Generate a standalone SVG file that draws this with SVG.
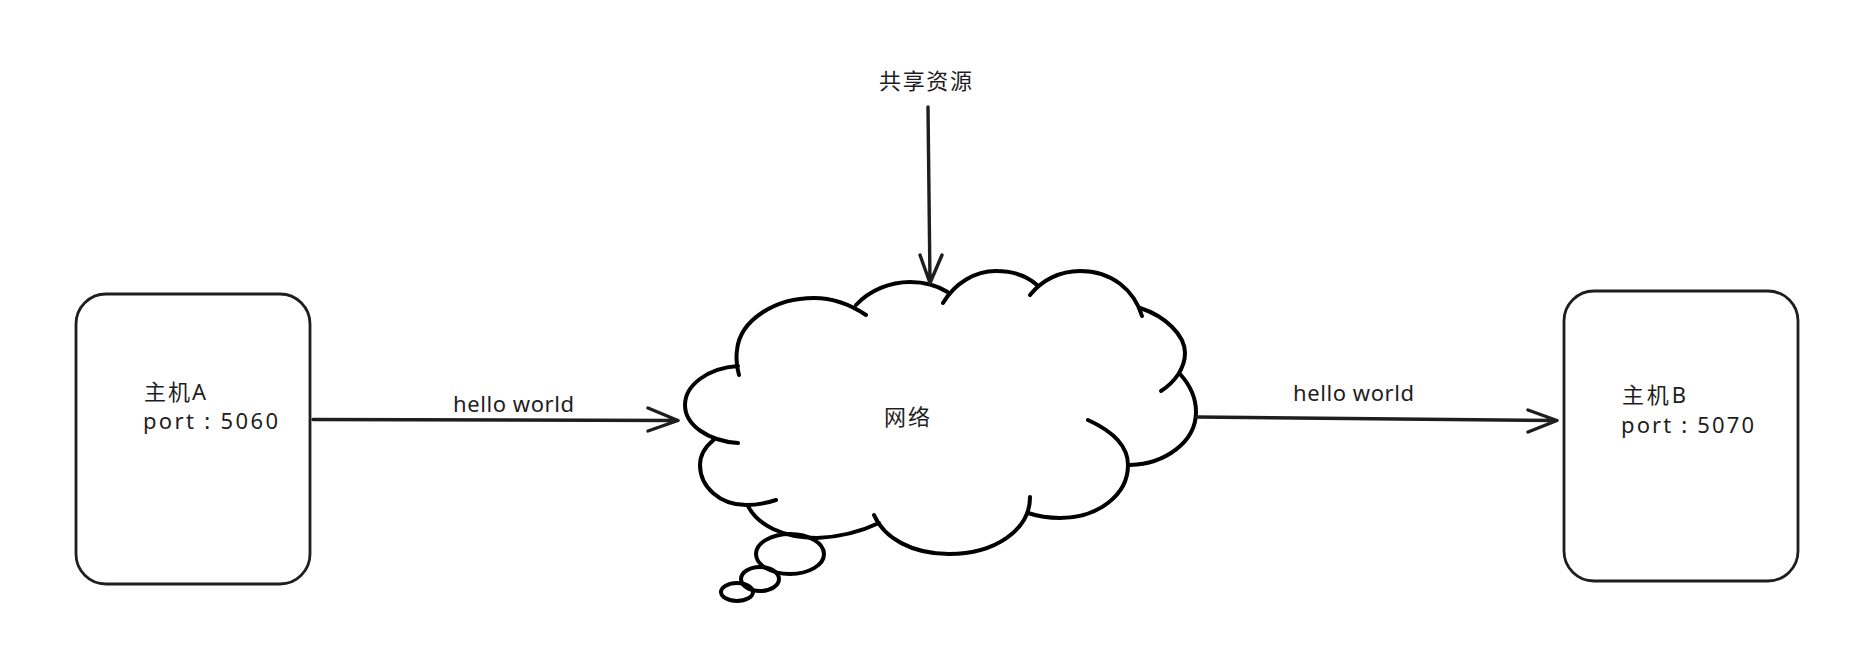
<svg xmlns="http://www.w3.org/2000/svg" width="1868" height="666" viewBox="0 0 1868 666">
<style>
text{font-family:"Noto Sans","Noto Sans CJK SC",sans-serif;font-size:22px;font-weight:400;fill:#1e1e1e}
.box{fill:none;stroke:#1e1e1e;stroke-width:2.8}
.cloud path,.cloud ellipse{fill:none;stroke:#000;stroke-width:4;stroke-linecap:round}
.conn{fill:none;stroke:#1e1e1e;stroke-width:3.4;stroke-linecap:round;stroke-linejoin:round}
</style>
<rect width="1868" height="666" fill="#fff"/>
<g id="hostA">
<rect class="box" x="76" y="294" width="234" height="290" rx="30"/>
<text x="144" y="400" textLength="62">主机A</text>
<text x="143" y="429" textLength="135">port : 5060</text>
</g>
<g id="hostB">
<rect class="box" x="1564" y="291" width="234" height="290" rx="30"/>
<text x="1622" y="403" textLength="64">主机B</text>
<text x="1621" y="433" textLength="133">port : 5070</text>
</g>
<g id="network" class="cloud">
<path d="M739 375C735 362 737 350 737 350C740 320 775 298 814 298C833 298 851 305 866 315"/>
<path d="M856 305C870 290 890 282 910 282C925 282 938 286 947.5 292"/>
<path d="M943 303C955 283 975 271 996 271C1012 271 1027 276 1037 285"/>
<path d="M1030 295C1042 280 1060 271 1080 271C1112 271 1134 290 1142 316"/>
<path d="M1140 308C1165 316 1185 335 1185 353C1185 368 1175 382 1161 391"/>
<path d="M1180 374C1190 385 1196 397 1196 412C1196 442 1165 464 1130 465"/>
<path d="M1088 420C1110 430 1128 445 1128 465C1128 495 1098 518 1060 518C1048 518 1037 516 1028 513"/>
<path d="M1030 497C1030 530 995 554 949 554C912 554 884 538 874 515"/>
<path d="M879 523C860 532 840 537 817 538C783 538 757 525 747.5 505"/>
<path d="M776 500C767 503 757 505 746 505C720 505 700 487 700 465C700 455 705 447 713.5 440"/>
<path d="M738 443C708 441 685 425 685 405C685 385 708 368 738 366"/>
<ellipse cx="790" cy="554" rx="34" ry="20"/>
<ellipse cx="760" cy="579" rx="19" ry="12"/>
<ellipse cx="737" cy="592" rx="16" ry="9"/>
<text x="884" y="425" textLength="46">网络</text>
</g>
<g id="resource">
<text x="879" y="89" textLength="93">共享资源</text>
</g>
<g id="connectors" class="conn">
<path d="M313 419.5L678 420.5M648 408L678 420.5L648 431"/>
<path d="M1197 417L1557 420.5M1528 410L1557 420.5L1528 432"/>
<path d="M928 107L930 283M920 255L930 283L942 255"/>
</g>
<g id="labels">
<text x="453" y="412" textLength="121">hello world</text>
<text x="1293" y="401" textLength="121">hello world</text>
</g>
</svg>
